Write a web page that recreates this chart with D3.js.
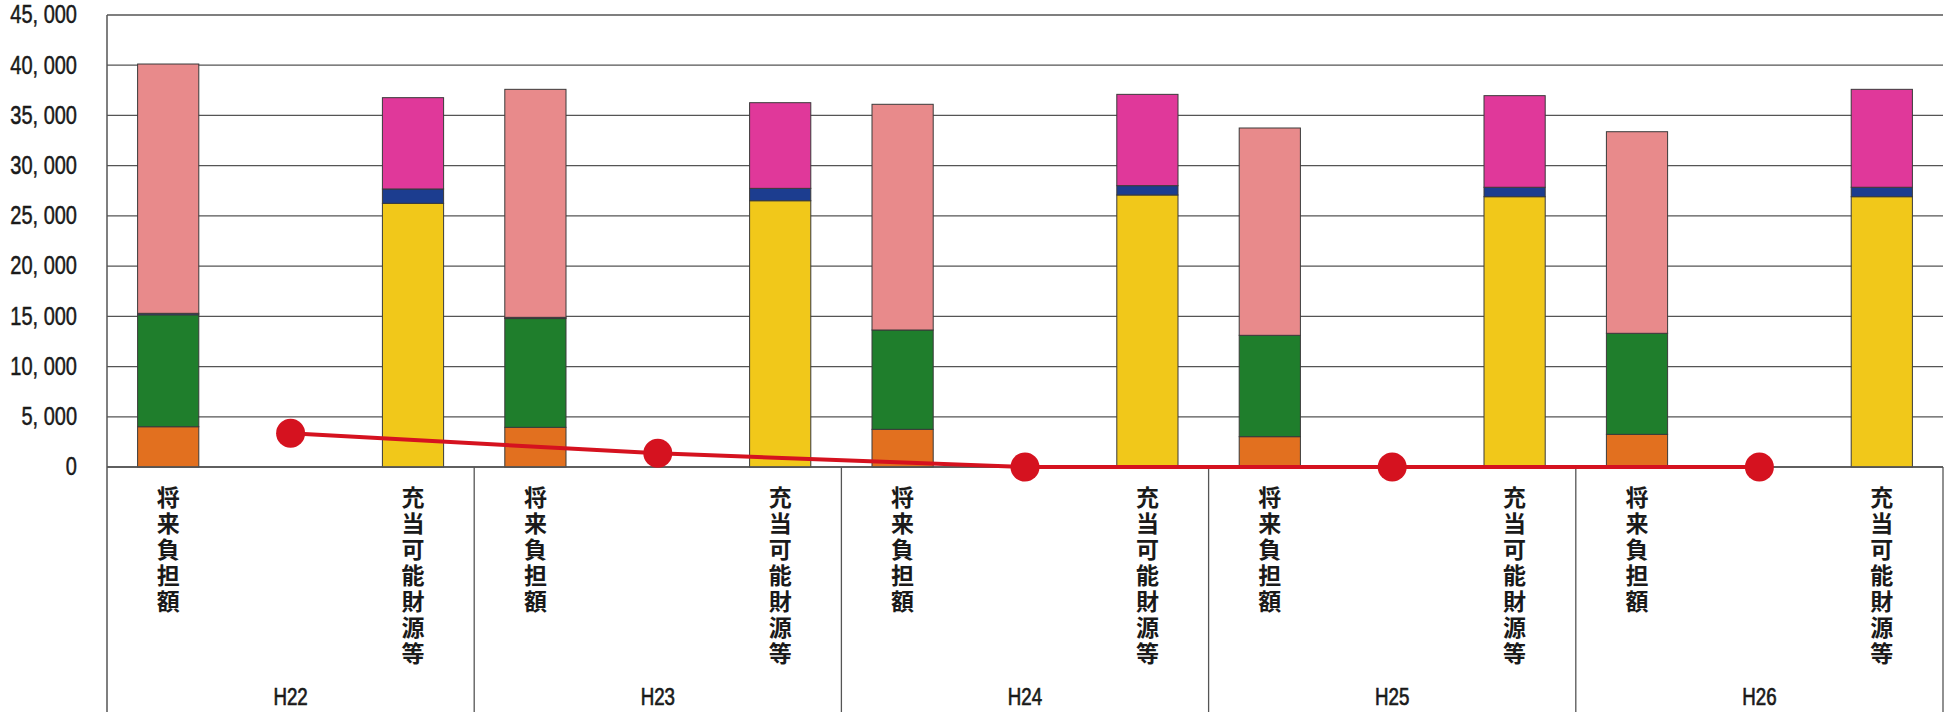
<!DOCTYPE html>
<html lang="ja">
<head>
<meta charset="utf-8">
<script src="https://cdn.jsdelivr.net/npm/d3@7"></script>
<style>
  html, body { margin: 0; padding: 0; background: #ffffff; }
  svg { display: block; }
  .ylab { font-family: "Liberation Sans", Arial, sans-serif; font-size: 25px; fill: #1a1a1a; stroke: #1a1a1a; stroke-width: 0.5px; }
  .yr { font-family: "Liberation Sans", Arial, sans-serif; font-size: 24px; fill: #1a1a1a; stroke: #1a1a1a; stroke-width: 0.7px; }
  .cat { font-family: "Noto Sans CJK JP", sans-serif; font-weight: 700; font-size: 23px; fill: #1a1a1a;
         writing-mode: vertical-rl; }
</style>
</head>
<body>
<svg id="chart" width="1945" height="712"></svg>
<script>
// Fiscal years (Heisei)
const years = ["H22", "H23", "H24", "H25", "H26"];
// Slots inside each year: burden bar, net line point, resources bar
const slots = ["burden", "net", "resources"];
const burdenLabel = "将来負担額";
const resourcesLabel = "充当可能財源等";

// 将来負担額 components, stacked bottom to top
const burdenOrange = [4010, 3950, 3750, 3020, 3250];
const burdenGreen  = [11140, 10830, 9890, 10090, 10060];
const burdenNavy   = [150, 120, 0, 0, 0];
const burdenPink   = [24820, 22700, 22470, 20640, 20070];

// 充当可能財源等 components, stacked bottom to top
const resYellow  = [26250, 26510, 27080, 26910, 26910];
const resNavy    = [1430, 1230, 930, 940, 940];
const resMagenta = [9090, 8530, 9090, 9120, 9750];

// Net burden (burden minus resources, floored at zero)
const netBurden = [3350, 1360, 0, 0, 0];

// Y axis ticks
const yTicks = [0, 5000, 10000, 15000, 20000, 25000, 30000, 35000, 40000, 45000];

const burdenKeys = ["orange", "green", "navy", "pink"];
const burdenColors = { orange: "#e2701f", green: "#1f7e2c", navy: "#1c3d8f", pink: "#e88a8b" };
const resKeys = ["yellow", "navy", "magenta"];
const resColors = { yellow: "#f1c81a", navy: "#1c3d8f", magenta: "#e0389a" };

const burdenRows = years.map((y, i) => ({ year: y, orange: burdenOrange[i], green: burdenGreen[i], navy: burdenNavy[i], pink: burdenPink[i] }));
const resRows = years.map((y, i) => ({ year: y, yellow: resYellow[i], navy: resNavy[i], magenta: resMagenta[i] }));

const svg = d3.select("#chart");
const plotLeft = 107, plotRight = 1943, plotTop = 15, plotBase = 467, plotBottom = 712;
const narrow = 0.8; // horizontal squeeze for the condensed numeric labels

const x = d3.scaleBand().domain(years).range([plotLeft, plotRight]).padding(0);
const xs = d3.scaleBand().domain(slots).range([0, x.bandwidth()]).padding(0);
const y = d3.scaleLinear().domain([0, 45000]).range([plotBase, plotTop]);
const barW = xs.bandwidth() * 0.5;

// Horizontal gridlines
svg.append("g").selectAll("line").data(yTicks).join("line")
  .attr("x1", plotLeft).attr("x2", plotRight)
  .attr("y1", d => y(d)).attr("y2", d => y(d))
  .attr("stroke", "#555").attr("stroke-width", 1.3);

// Y axis labels (condensed)
const fmt = v => d3.format(",")(v).replace(",", ", ");
svg.append("g").selectAll("g").data(yTicks).join("g")
  .attr("transform", d => `translate(77,${y(d)}) scale(${narrow},1)`)
  .append("text")
  .attr("class", "ylab")
  .attr("x", 0).attr("y", 0)
  .attr("text-anchor", "end").attr("dominant-baseline", "central")
  .text(fmt);

// Left axis line and category table borders
svg.append("line").attr("x1", plotLeft).attr("x2", plotLeft).attr("y1", plotTop).attr("y2", plotBottom)
  .attr("stroke", "#555").attr("stroke-width", 1.5);
svg.append("g").selectAll("line").data(years.slice(1).map(d => x(d)).concat([plotRight])).join("line")
  .attr("x1", d => d).attr("x2", d => d).attr("y1", plotBase).attr("y2", plotBottom)
  .attr("stroke", "#555").attr("stroke-width", 1.3);

// Stacked bars
function drawStack(rows, keys, colors, slot) {
  const series = d3.stack().keys(keys)(rows);
  const g = svg.append("g");
  series.forEach(s => {
    g.append("g").selectAll("rect").data(s).join("rect")
      .attr("x", d => x(d.data.year) + xs(slot) + (xs.bandwidth() - barW) / 2)
      .attr("width", barW)
      .attr("y", d => y(d[1]))
      .attr("height", d => Math.max(0, y(d[0]) - y(d[1])))
      .attr("fill", colors[s.key])
      .attr("stroke", "#3a3a3a").attr("stroke-width", 1);
  });
}
drawStack(burdenRows, burdenKeys, burdenColors, "burden");
drawStack(resRows, resKeys, resColors, "resources");

// Baseline
svg.append("line").attr("x1", plotLeft).attr("x2", plotRight).attr("y1", plotBase).attr("y2", plotBase)
  .attr("stroke", "#555").attr("stroke-width", 1.5);

// Net burden line with markers
const netPts = years.map((yr, i) => [x(yr) + xs("net") + xs.bandwidth() / 2, y(netBurden[i])]);
svg.append("path").datum(netPts)
  .attr("d", d3.line())
  .attr("fill", "none").attr("stroke", "#d5121f").attr("stroke-width", 4);
svg.append("g").selectAll("circle").data(netPts).join("circle")
  .attr("cx", d => d[0]).attr("cy", d => d[1]).attr("r", 14.5)
  .attr("fill", "#d5121f");

// Vertical category labels, one character per cell
function vLabel(str, cx) {
  const g = svg.append("g");
  g.selectAll("text").data(Array.from(str)).join("text")
    .attr("class", "cat")
    .attr("x", cx).attr("y", (d, i) => 486 + i * 26)
    .text(d => d);
}
years.forEach(yr => {
  vLabel(burdenLabel, x(yr) + xs("burden") + xs.bandwidth() / 2);
  vLabel(resourcesLabel, x(yr) + xs("resources") + xs.bandwidth() / 2);
});

// Year labels (condensed)
svg.append("g").selectAll("g").data(years).join("g")
  .attr("transform", d => `translate(${x(d) + x.bandwidth() / 2},697) scale(0.78,1)`)
  .append("text")
  .attr("class", "yr")
  .attr("text-anchor", "middle").attr("dominant-baseline", "central")
  .text(d => d);
</script>
</body>
</html>
